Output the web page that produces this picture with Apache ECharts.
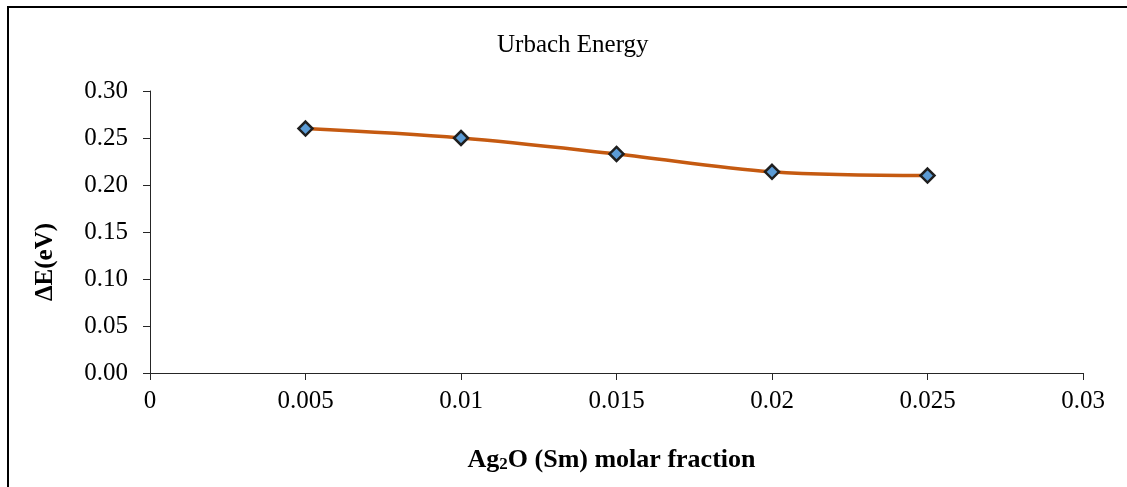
<!DOCTYPE html>
<html>
<head>
<meta charset="utf-8">
<script src="https://cdn.jsdelivr.net/npm/echarts@6/dist/echarts.min.js"></script>
<style>
  html, body { margin: 0; padding: 0; background: #fff; }
  #chart { width: 1127px; height: 487px; }
</style>
</head>
<body>
<div id="chart"></div>
<script>
// data
const molarFraction = [0.005, 0.01, 0.015, 0.02, 0.025]
const urbachEnergy = [0.26, 0.25, 0.233, 0.214, 0.21]
const xTicks = [0, 0.005, 0.01, 0.015, 0.02, 0.025, 0.03]
const yTicks = [0, 0.05, 0.1, 0.15, 0.2, 0.25, 0.3]

const serif = 'Liberation Serif'
const axisColor = '#262626'

const chart = echarts.init(document.getElementById('chart'))
chart.setOption({
  animation: false,
  backgroundColor: '#fff',
  title: {
    text: 'Urbach Energy',
    left: 492,
    top: 28,
    textStyle: { fontFamily: serif, fontSize: 25, fontWeight: 'normal', color: '#000' }
  },
  grid: { left: 150, right: 44, top: 91, bottom: 114 },
  xAxis: {
    type: 'value',
    min: xTicks[0],
    max: xTicks[xTicks.length - 1],
    interval: xTicks[1] - xTicks[0],
    splitLine: { show: false },
    axisLine: { show: true, lineStyle: { color: axisColor, width: 1 } },
    axisTick: { show: true, inside: false, length: 7, lineStyle: { color: axisColor } },
    axisLabel: {
      margin: 16,
      fontFamily: serif,
      fontSize: 25,
      color: '#000',
      formatter: v => String(+v.toFixed(3))
    },
    name: '{b|Ag}{s|2}{b|O (Sm) molar fraction}',
    nameLocation: 'middle',
    nameGap: 70,
    nameTextStyle: {
      padding: [0, 10, 0, 0],
      rich: {
        b: { fontFamily: serif, fontSize: 26, fontWeight: 'bold', color: '#000', lineHeight: 30, verticalAlign: 'bottom' },
        s: { fontFamily: serif, fontSize: 17, fontWeight: 'bold', color: '#000', lineHeight: 6, verticalAlign: 'bottom' }
      }
    }
  },
  yAxis: {
    type: 'value',
    min: yTicks[0],
    max: yTicks[yTicks.length - 1],
    interval: yTicks[1] - yTicks[0],
    splitLine: { show: false },
    axisLine: { show: true, lineStyle: { color: axisColor, width: 1 } },
    axisTick: { show: true, inside: false, length: 7, lineStyle: { color: axisColor } },
    axisLabel: {
      margin: 22,
      fontFamily: serif,
      fontSize: 25,
      color: '#000',
      formatter: v => v.toFixed(2)
    },
    name: 'ΔE(eV)',
    nameLocation: 'middle',
    nameGap: 92,
    nameTextStyle: {
      fontFamily: serif,
      fontSize: 25,
      fontWeight: 'bold',
      color: '#000',
      padding: [0, 60, 0, 0]
    }
  },
  graphic: [
    { type: 'line', shape: { x1: 7, y1: 7, x2: 1127, y2: 7 }, style: { stroke: '#000', lineWidth: 2 } },
    { type: 'line', shape: { x1: 8, y1: 6, x2: 8, y2: 487 }, style: { stroke: '#000', lineWidth: 2 } }
  ],
  series: [
    {
      name: 'Urbach Energy',
      type: 'line',
      data: molarFraction.map((x, i) => [x, urbachEnergy[i]]),
      smooth: 0.35,
      symbol: 'diamond',
      symbolSize: 14,
      lineStyle: { color: '#C55A11', width: 3.5 },
      itemStyle: { color: '#5B9BD5', borderColor: '#1f1f1f', borderWidth: 2.5 },
      z: 3
    }
  ]
})
</script>
</body>
</html>
